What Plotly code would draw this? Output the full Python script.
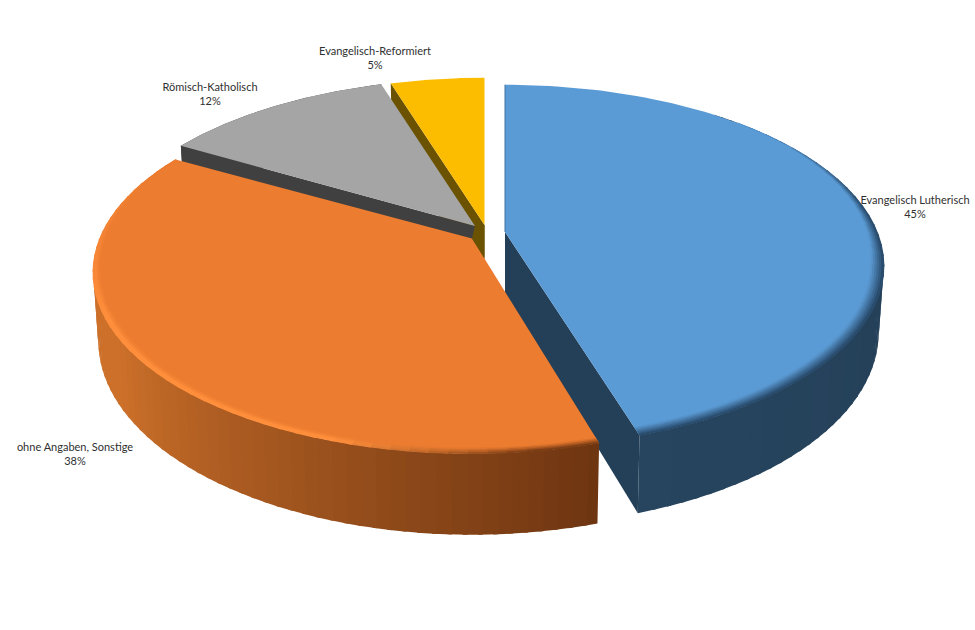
import math
import plotly.graph_objects as go

# Data
labels = ["Evangelisch Lutherisch", "ohne Angaben, Sonstige", "Römisch-Katholisch", "Evangelisch-Reformiert"]
values = [45.2, 38.0, 12.0, 4.8]
top_colors = ["#5b9bd5", "#ec7c30", "#a5a5a5", "#fcbd00"]
wall_colors = ["#243f58", "#7a3f14", "#404040", "#6b5200"]
label_pos = [(915, 208), (75, 455), (210, 95), (375, 59)]

# Projection of the pie (perspective view, pixel-sized axes)
R, K, P = 372.0, 0.47 * 372.0, 0.187
centers = [(505, 232), (472, 238.5), (475, 226), (484.5, 225)]
depths = [64, 66, 66, 66]
SHRINK = 0.987
start_trim = [0.0, 1.0, 0.6, 0.0]  # small visual gap at the start of each slice

angles = []
acc = 0.0
for v, trim in zip(values, start_trim):
    a0 = acc / sum(values) * 360
    acc += v
    angles.append((a0 + trim, acc / sum(values) * 360))


def top(i, a, r=1.0):
    u, v = math.sin(math.radians(a)) * r, math.cos(math.radians(a)) * r
    s = 1 / (1 + P * v)
    cx, cy = centers[i]
    return (cx + R * u * s, cy - K * v * s)


def bottom(i, a, r=1.0):
    u, v = math.sin(math.radians(a)) * r, math.cos(math.radians(a)) * r
    s = 1 / (1 + P * v)
    cx, cy = centers[i]
    return (cx + R * u * s * SHRINK, cy - K * v * s + depths[i] * s)


def hexrgb(c):
    return tuple(int(c[k:k + 2], 16) for k in (1, 3, 5))


def mix(c1, c2, t):
    a, b = hexrgb(c1), hexrgb(c2)
    return "#%02x%02x%02x" % tuple(round(a[k] + (b[k] - a[k]) * t) for k in range(3))


fig = go.Figure()


def poly(pts, color, lw=0.0):
    fig.add_trace(go.Scatter(
        x=[p[0] for p in pts] + [pts[0][0]],
        y=[p[1] for p in pts] + [pts[0][1]],
        mode="lines", fill="toself", fillcolor=color,
        line=dict(color=color, width=lw), hoverinfo="skip", showlegend=False))


def arc(i, a0, a1, fn=top, r=1.0, n=120):
    return [fn(i, a0 + (a1 - a0) * k / n, r) for k in range(n + 1)]


def top_face(i):
    a0, a1 = angles[i]
    poly([centers[i]] + arc(i, a0, a1), top_colors[i])


def radial_wall(i, a):
    c = centers[i]
    poly([c, top(i, a), bottom(i, a), bottom(i, a, 0.0)], wall_colors[i])


# --- yellow slice (back)
radial_wall(3, angles[3][0])
top_face(3)

# --- grey slice
radial_wall(2, angles[2][0])
poly(arc(2, *angles[2]) + arc(2, angles[2][1], angles[2][0], bottom), wall_colors[2])
top_face(2)

# --- blue wall and rim, behind the orange slice
a0, a1 = angles[0]
radial_wall(0, a1)
N = 60
for k in range(N):
    s0 = 40 + (a1 - 40) * k / N
    s1 = 40 + (a1 - 40) * (k + 1) / N
    start = s0 - 0.6 if k else s0
    poly(arc(0, start, s1, top, n=3) + arc(0, s1, start, bottom, n=3),
         mix("#223b52", "#27455f", k / N))

# --- orange rim gradient, side strips from the dark right end to the lit left
a0, a1 = angles[1]
N = 70
for k in range(N):
    s0 = a0 + (a1 - a0) * k / N
    s1 = a0 + (a1 - a0) * (k + 1) / N
    t = min(1.0, k / (N * 0.55))
    start = s0 - 0.6 if k else s0
    poly(arc(1, start, s1, top, n=3) + arc(1, s1, start, bottom, n=3),
         mix("#6e3511", "#cc702a", t))
top_face(1)

# orange bevel
N = 55
layers = 4
for k in range(N):
    s0 = a0 + (a1 - a0) * k / N
    s1 = a0 + (a1 - a0) * (k + 1) / N
    lit = min(1.0, max(0.0, (s0 - 172) / 25))
    fade = min(1.0, max(0.0, (292 - s0) / 50))
    start = s0 - 0.5 if k else s0
    for j in range(layers):
        th = 0.022 * (0.35 + 0.65 * fade)
        r0 = 1 - th * (1 - j / layers)
        r1 = 1 - th * (1 - (j + 1) / layers)
        t = (j + 0.5) / layers
        col_lit = mix("#ec7c30", "#ff8f3c", min(1, t * 1.6) * fade) if lit > 0 else "#ec7c30"
        col_dark = mix("#ec7c30", "#6e3511", t)
        poly(arc(1, start, s1, top, r1 + 0.002, n=2) + arc(1, s1, start, top, r0, n=2),
             mix(col_dark, col_lit, lit))

# --- yellow wall corner that shows in front of the orange face
poly([centers[3], (centers[3][0], centers[3][1] + 33), centers[1], centers[2]], wall_colors[3])

# --- blue top with bevel
top_face(0)
a0, a1 = angles[0]
N = 50
layers = 6
for k in range(N):
    s0 = a0 + (a1 - a0) * k / N
    s1 = a0 + (a1 - a0) * (k + 1) / N
    strength = min(1.0, max(0.0, (s0 - 45) / 35))
    if strength <= 0:
        continue
    th = 0.004 + 0.030 * min(1.0, max(0.0, (s0 - 55) / 45))
    start = s0 - 0.5 if k else s0
    for j in range(layers):
        r0 = 1 - th * (1 - j / layers)
        r1 = 1 - th * (1 - (j + 1) / layers)
        poly(arc(0, start, s1, top, r1 + 0.002, n=2) + arc(0, s1, start, top, r0, n=2),
             mix("#5b9bd5", "#264665", strength * ((j + 0.5) / layers)))
edge = [centers[0], top(0, 0)]
fig.add_trace(go.Scatter(x=[p[0] for p in edge], y=[p[1] for p in edge], mode="lines",
                         line=dict(color="#3f73a5", width=1), hoverinfo="skip", showlegend=False))

# --- labels
fig.add_trace(go.Scatter(
    x=[p[0] for p in label_pos], y=[p[1] for p in label_pos],
    mode="text",
    text=[f"{l}<br>{round(v)}%" for l, v in zip(labels, values)],
    textposition="middle center",
    textfont=dict(family="Lato", size=11, color="#303030"),
    hoverinfo="skip", showlegend=False))

fig.update_layout(
    width=975, height=630,
    margin=dict(l=0, r=0, t=0, b=0),
    paper_bgcolor="white", plot_bgcolor="white",
    xaxis=dict(range=[0, 975], visible=False, fixedrange=True),
    yaxis=dict(range=[630, 0], visible=False, fixedrange=True),
)
fig.write_html("out.html", config={"displayModeBar": False},
               post_script="document.body.style.margin='0';document.body.style.overflow='hidden';")
